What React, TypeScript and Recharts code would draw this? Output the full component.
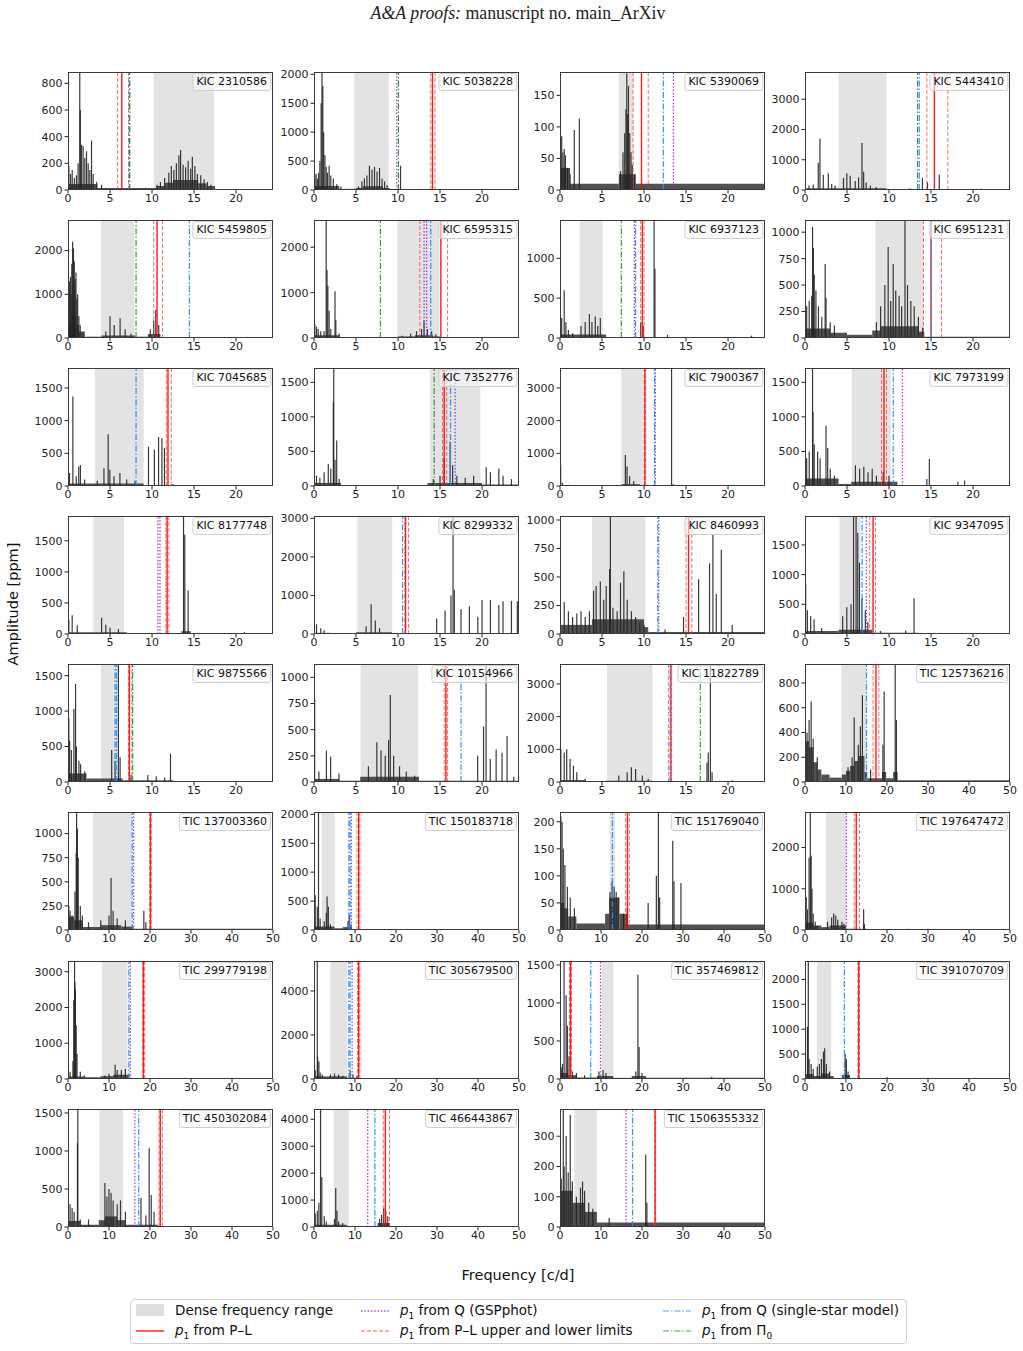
import React from 'react';
import { ComposedChart, Bar, XAxis, YAxis, ReferenceArea, ReferenceLine } from 'recharts';

type Pair = [number, number];
type Span = [number, number, number];

// star identifiers, row by row
const stars = [
  'KIC 2310586', 'KIC 5038228', 'KIC 5390069', 'KIC 5443410',
  'KIC 5459805', 'KIC 6595315', 'KIC 6937123', 'KIC 6951231',
  'KIC 7045685', 'KIC 7352776', 'KIC 7900367', 'KIC 7973199',
  'KIC 8177748', 'KIC 8299332', 'KIC 8460993', 'KIC 9347095',
  'KIC 9875566', 'KIC 10154966', 'KIC 11822789', 'TIC 125736216',
  'TIC 137003360', 'TIC 150183718', 'TIC 151769040', 'TIC 197647472',
  'TIC 299779198', 'TIC 305679500', 'TIC 357469812', 'TIC 391070709',
  'TIC 450302084', 'TIC 466443867', 'TIC 1506355332',
];

const kicFreqTicks = [0, 5, 10, 15, 20];
const ticFreqTicks = [0, 10, 20, 30, 40, 50];

// top of each amplitude axis (ppm) and its ticks
const ampMax = [
  885, 2040, 187, 3900, 2700, 2600, 1480, 1115, 1805, 1707, 3610, 1707, 1900, 3060, 1035, 1987,
  1664, 1127, 3610, 953, 1224, 2040, 218, 2860, 3300, 5360, 1552, 2370, 1552, 4380, 390,
];
const ampTicks = [
  [0, 200, 400, 600, 800], [0, 500, 1000, 1500, 2000], [0, 50, 100, 150], [0, 1000, 2000, 3000],
  [0, 1000, 2000], [0, 1000, 2000], [0, 500, 1000], [0, 250, 500, 750, 1000],
  [0, 500, 1000, 1500], [0, 500, 1000, 1500], [0, 1000, 2000, 3000], [0, 500, 1000, 1500],
  [0, 500, 1000, 1500], [0, 1000, 2000, 3000], [0, 250, 500, 750, 1000], [0, 500, 1000, 1500],
  [0, 500, 1000, 1500], [0, 250, 500, 750, 1000], [0, 1000, 2000, 3000], [0, 200, 400, 600, 800],
  [0, 250, 500, 750, 1000], [0, 500, 1000, 1500, 2000], [0, 50, 100, 150, 200], [0, 1000, 2000],
  [0, 1000, 2000, 3000], [0, 2000, 4000], [0, 500, 1000, 1500], [0, 500, 1000, 1500, 2000],
  [0, 500, 1000, 1500], [0, 1000, 2000, 3000, 4000], [0, 100, 200, 300],
];

// dense frequency range (c/d)
const denseRange: Pair[] = [
  [10.2, 17.4], [4.8, 8.9], [7.0, 8.7], [4.0, 9.7], [3.9, 7.9], [9.9, 14.9], [2.35, 5.1], [8.4, 14.1],
  [3.2, 9.0], [13.8, 19.8], [7.3, 9.85], [5.55, 10.2], [3.0, 6.65], [5.15, 9.3], [3.8, 10.15], [4.1, 6.6],
  [3.9, 5.94], [5.55, 12.4], [5.6, 11.0], [8.9, 15.0], [6.1, 15.65], [1.9, 5.1], [12.1, 13.4], [5.1, 10.1],
  [8.3, 14.5], [4.0, 8.15], [10.2, 13.0], [2.9, 6.4], [7.7, 13.4], [4.8, 8.5], [3.5, 8.95],
];

// p1 from the period-luminosity relation, with its lower/upper limits
const p1PL = [
  6.4, 14.1, 9.7, 15.4, 10.6, 15.1, 9.8, 15.0, 11.9, 15.5, 10.1, 9.4, 11.8, 10.9, 15.3, 8.1,
  7.3, 15.7, 13.2, 17.3, 20.1, 10.9, 16.45, 12.5, 18.4, 10.9, 2.55, 13.1, 22.5, 17.4, 23.2,
];
const p1PLLimits: Pair[] = [
  [5.9, 7.2], [13.9, 14.4], [8.7, 10.5], [14.5, 17.0], [10.2, 11.25], [12.6, 15.9], [9.6, 10.0], [14.1, 16.25],
  [11.7, 12.3], [15.3, 15.8], [10.0, 10.2], [9.1, 9.7], [11.65, 12.0], [10.8, 11.25], [15.0, 15.7], [7.7, 8.4],
  [7.2, 7.6], [15.5, 15.9], [12.9, 13.3], [16.6, 18.0], [19.9, 20.3], [10.5, 11.2], [16.0, 16.9], [12.0, 13.3],
  [18.2, 18.7], [10.6, 11.2], [2.3, 2.8], [12.9, 13.3], [22.2, 23.0], [16.9, 18.4], [23.05, 23.35],
];
// p1 from Q (GSPphot), from Q (single-star model) and from Pi0
const p1GSP = [
  [], [9.85], [13.5], [], [], [13.1, 13.4], [8.85], [], [], [16.8], [11.35], [11.6], [10.7, 10.95], [], [11.75], [7.3],
  [], [], [], [], [16.0], [9.1], [], [10.1], [15.2], [9.3], [9.9], [], [16.3], [13.1], [16.1],
];
const p1Single = [
  [7.3], [], [12.3], [13.6], [14.45], [13.9], [9.0], [15.0], [8.1], [16.25], [11.25], [10.5], [], [10.55], [11.64], [6.8],
  [5.6, 5.75], [17.5], [13.1], [15.0], [15.65], [8.5, 8.8], [12.8], [], [14.85], [8.5, 8.8], [7.5], [9.6], [17.25], [14.85], [17.7],
];
const p1Pi0 = [
  [7.35], [10.05], [], [13.4], [8.1], [7.9], [7.3], [], [], [14.3], [], [], [], [], [], [],
  [7.7], [], [16.7], [], [], [], [], [], [], [], [], [], [], [], [],
];

// amplitude spectra: main peaks [freq c/d, amp ppm]
const s2310586: Pair[] = [[0.1, 180], [0.3, 120], [0.5, 150], [0.75, 90], [1.0, 110], [1.2, 200], [1.4, 885], [1.47, 600], [1.6, 340], [1.8, 330], [2.0, 240], [2.2, 290], [2.4, 200], [2.6, 150], [2.8, 370], [3.0, 120], [3.4, 60], [4.0, 40], [10.6, 40], [11.0, 60], [11.5, 90], [12.0, 130], [12.3, 180], [12.6, 150], [12.9, 200], [13.2, 260], [13.4, 300], [13.7, 190], [14.0, 170], [14.3, 220], [14.6, 160], [14.8, 250], [15.1, 180], [15.4, 120], [15.8, 110], [16.2, 80], [16.6, 60], [17.0, 40]];
const s5038228: Pair[] = [[0.1, 250], [0.25, 280], [0.4, 200], [0.55, 300], [0.7, 500], [0.85, 1500], [0.95, 2040], [1.05, 1800], [1.15, 1000], [1.3, 600], [1.45, 400], [1.6, 300], [1.8, 420], [2.0, 250], [2.3, 200], [2.7, 100], [3.2, 60], [5.3, 60], [5.7, 150], [6.0, 200], [6.3, 250], [6.6, 420], [6.9, 350], [7.2, 400], [7.5, 320], [7.8, 380], [8.1, 200], [8.4, 150], [8.7, 80], [10.3, 420]];
const s5390069: Pair[] = [[0.05, 125], [0.2, 85], [0.35, 60], [0.5, 65], [0.65, 55], [0.9, 35], [1.2, 25], [1.7, 95], [2.3, 113], [7.2, 30], [7.5, 60], [7.7, 90], [7.85, 128], [7.95, 185], [8.05, 120], [8.15, 165], [8.3, 90], [8.45, 60], [8.6, 40], [8.9, 25]];
const s5443410: Pair[] = [[0.5, 150], [1.0, 180], [1.6, 900], [1.8, 1700], [2.2, 500], [2.8, 550], [3.2, 200], [3.6, 150], [4.6, 400], [5.0, 550], [5.4, 470], [6.0, 300], [6.4, 420], [6.8, 1550], [7.0, 600], [7.3, 250], [7.8, 150], [8.5, 100], [12.5, 60], [14.0, 400], [14.6, 250], [16.0, 500], [21.0, 50]];
const s5459805: Pair[] = [[0.05, 1750], [0.12, 1100], [0.2, 1300], [0.3, 1400], [0.38, 1000], [0.45, 1700], [0.55, 2200], [0.6, 1200], [0.65, 2050], [0.75, 1750], [0.8, 1100], [0.85, 1350], [0.95, 1500], [1.05, 900], [1.15, 1000], [1.3, 500], [1.45, 300], [1.8, 100], [4.5, 150], [5.0, 500], [5.5, 300], [6.2, 450], [6.8, 200], [7.5, 100], [9.8, 200], [10.2, 400], [10.45, 650], [10.8, 300]];
const s6595315: Pair[] = [[0.1, 300], [0.3, 250], [0.5, 200], [0.8, 150], [1.2, 150], [1.45, 2600], [1.55, 1500], [1.65, 1150], [1.8, 600], [2.0, 200], [2.5, 1030], [2.6, 400], [3.0, 100], [10.5, 50], [11.5, 100], [12.2, 150], [12.8, 200], [13.1, 380], [13.5, 200], [14.0, 150], [14.5, 80]];
const s6937123: Pair[] = [[0.2, 250], [0.5, 600], [0.7, 200], [1.0, 100], [1.5, 60], [2.5, 150], [3.0, 200], [3.5, 300], [3.8, 200], [4.2, 270], [4.5, 150], [4.8, 250], [9.6, 200], [9.9, 150], [11.2, 1480], [11.3, 870], [12.8, 40], [22.8, 30]];
const s6951231: Pair[] = [[0.2, 300], [0.5, 350], [0.8, 400], [0.9, 1050], [1.0, 850], [1.1, 600], [1.3, 450], [1.6, 300], [2.0, 200], [2.4, 700], [2.5, 380], [3.0, 150], [3.5, 120], [8.5, 150], [9.0, 300], [9.5, 500], [9.9, 860], [10.2, 350], [10.5, 700], [10.8, 450], [11.2, 400], [11.5, 300], [11.9, 1115], [12.2, 500], [12.6, 350], [13.0, 300], [13.5, 200], [14.0, 100]];
const s7045685: Pair[] = [[0.2, 200], [0.6, 1370], [1.0, 150], [1.3, 300], [1.5, 320], [2.0, 100], [3.5, 80], [4.3, 270], [4.8, 790], [5.0, 250], [5.5, 150], [6.2, 200], [7.0, 100], [8.0, 80], [9.6, 600], [10.3, 560], [10.8, 750], [11.2, 730], [11.5, 580], [12.5, 30]];
const s7352776: Pair[] = [[0.3, 150], [0.7, 120], [1.2, 200], [1.7, 320], [2.0, 250], [2.3, 1220], [2.35, 1707], [2.5, 380], [2.7, 660], [3.0, 100], [14.2, 100], [15.0, 150], [15.5, 400], [16.2, 640], [16.5, 300], [17.0, 150], [18.0, 120], [19.0, 150], [20.5, 270], [21.0, 200], [22.0, 250], [22.5, 150], [23.5, 100]];
const s7900367: Pair[] = [[0.1, 620], [0.3, 100], [1.0, 40], [7.8, 950], [8.0, 600], [8.3, 300], [8.8, 150], [13.3, 3610], [13.5, 60]];
const s7973199: Pair[] = [[0.2, 400], [0.5, 500], [0.9, 1707], [0.95, 1070], [1.1, 600], [1.5, 500], [1.8, 400], [2.5, 870], [2.7, 550], [3.0, 250], [3.5, 150], [6.0, 300], [6.5, 250], [7.0, 280], [7.5, 200], [8.0, 250], [8.5, 150], [9.3, 200], [10.0, 150], [14.5, 100], [14.8, 390], [18.2, 60], [19.0, 80]];
const s8177748: Pair[] = [[0.1, 230], [0.5, 300], [1.1, 140], [4.0, 260], [4.5, 150], [5.0, 100], [6.0, 80], [13.75, 1900], [13.9, 1600], [14.3, 700], [21.0, 30]];
const s8299332: Pair[] = [[0.3, 250], [0.8, 150], [1.2, 100], [6.2, 200], [6.8, 770], [7.3, 350], [7.8, 150], [14.6, 400], [15.6, 600], [16.3, 1000], [16.55, 3060], [16.7, 1150], [17.5, 650], [18.5, 720], [19.5, 450], [20.0, 880], [21.0, 880], [22.0, 750], [22.5, 850], [23.5, 860], [24.2, 850]];
const s8460993: Pair[] = [[0.5, 280], [1.0, 200], [1.5, 150], [2.0, 180], [2.5, 200], [3.0, 150], [3.5, 200], [4.0, 380], [4.3, 420], [4.8, 460], [5.2, 300], [5.5, 420], [5.9, 570], [6.0, 1035], [6.3, 230], [6.8, 200], [7.2, 450], [7.6, 550], [8.0, 300], [8.5, 200], [9.0, 150], [9.5, 100], [10.0, 80], [12.5, 40], [14.7, 150], [16.5, 480], [17.8, 620], [18.2, 870], [18.6, 350], [19.2, 740], [20.5, 80]];
const s9347095: Pair[] = [[0.1, 850], [0.3, 400], [0.7, 300], [1.1, 250], [2.0, 100], [4.5, 300], [5.0, 450], [5.5, 500], [5.8, 1987], [6.1, 1987], [6.3, 1700], [6.5, 1200], [6.8, 600], [7.2, 400], [7.5, 200], [9.0, 50], [12.0, 60], [13.0, 600]];
const s9875566: Pair[] = [[0.1, 900], [0.2, 580], [0.4, 450], [0.7, 1030], [0.9, 1380], [1.0, 500], [1.3, 300], [1.5, 250], [2.0, 150], [5.2, 450], [5.6, 300], [6.0, 1664], [6.2, 350], [7.5, 100], [9.5, 100], [10.5, 80], [11.5, 60], [12.2, 400]];
const s10154966: Pair[] = [[0.1, 800], [0.6, 100], [1.5, 300], [2.0, 240], [3.0, 80], [6.5, 150], [7.5, 380], [8.0, 300], [8.5, 250], [8.9, 400], [9.1, 830], [9.5, 250], [10.2, 150], [11.0, 100], [12.0, 60], [19.5, 250], [20.2, 530], [20.5, 1127], [21.0, 220], [21.7, 310], [22.4, 280], [23.0, 440], [23.8, 50]];
const s11822789: Pair[] = [[0.1, 1000], [0.5, 900], [0.8, 1000], [1.2, 700], [1.6, 500], [2.0, 300], [3.0, 100], [7.0, 200], [8.0, 300], [8.5, 450], [9.0, 400], [9.8, 200], [10.5, 100], [17.5, 600], [17.65, 900], [17.9, 3610], [18.1, 300], [20.5, 50]];
const s125736216: Pair[] = [[0.5, 400], [1.0, 500], [1.5, 650], [2.0, 350], [3.0, 200], [10.5, 120], [11.5, 200], [12.0, 520], [13.0, 300], [13.5, 450], [14.0, 700], [16.0, 100], [19.0, 300], [19.3, 730], [22.0, 953], [22.3, 500]];
const s137003360: Pair[] = [[0.2, 250], [0.5, 200], [1.0, 150], [1.7, 400], [2.0, 800], [2.1, 1224], [2.3, 1050], [2.5, 750], [3.0, 250], [3.5, 150], [5.0, 80], [8.0, 100], [10.0, 150], [10.5, 540], [11.0, 200], [12.0, 120], [14.0, 100], [18.5, 200], [19.0, 80]];
const s150183718: Pair[] = [[0.3, 600], [0.8, 400], [1.1, 2040], [1.5, 200], [2.5, 150], [3.0, 300], [3.2, 580], [3.5, 400], [4.0, 100], [8.3, 150], [8.6, 250], [9.0, 100]];
const s151769040: Pair[] = [[0.2, 210], [0.5, 200], [0.8, 150], [1.2, 120], [1.8, 80], [2.5, 60], [3.5, 40], [12.2, 70], [12.7, 90], [13.2, 80], [13.7, 70], [14.2, 60], [15.5, 30], [16.4, 40], [21.5, 50], [23.5, 100], [24.0, 218], [24.3, 60], [27.5, 165], [27.8, 90], [29.5, 87]];
const s197647472: Pair[] = [[0.3, 800], [0.6, 500], [1.0, 1750], [1.3, 2860], [1.5, 1800], [1.7, 1000], [2.0, 400], [2.5, 200], [3.0, 100], [5.5, 200], [6.5, 300], [7.0, 400], [7.5, 350], [8.0, 250], [9.0, 200], [9.5, 150], [14.3, 500], [14.5, 150], [25.0, 30], [30.0, 30]];
const s299779198: Pair[] = [[0.5, 200], [1.2, 500], [1.4, 2200], [1.6, 3300], [1.7, 2700], [1.8, 2500], [2.0, 1500], [2.2, 700], [3.0, 200], [4.0, 100], [9.0, 100], [10.0, 150], [11.5, 400], [12.0, 250], [13.0, 250], [14.0, 280]];
const s305679500: Pair[] = [[0.3, 400], [0.8, 5360], [0.9, 1000], [1.2, 800], [1.5, 300], [2.0, 200], [4.0, 200], [5.0, 250], [6.0, 200], [7.0, 150], [8.8, 400], [9.5, 200], [10.5, 150]];
const s357469812: Pair[] = [[0.3, 150], [0.6, 200], [1.0, 1552], [1.5, 1100], [1.8, 700], [2.2, 300], [3.0, 100], [4.0, 80], [6.0, 50], [9.5, 100], [10.5, 120], [11.2, 80], [18.5, 100], [19.0, 1370], [19.3, 420], [20.0, 80], [37.0, 30]];
const s391070709: Pair[] = [[0.6, 1050], [0.8, 2370], [1.0, 400], [1.5, 300], [2.0, 200], [3.0, 250], [3.5, 300], [4.0, 400], [4.5, 550], [4.8, 620], [5.2, 300], [6.0, 150], [9.8, 500], [10.1, 400], [10.5, 150], [20.0, 40]];
const s450302084: Pair[] = [[0.5, 300], [1.0, 250], [1.5, 200], [2.3, 1100], [2.4, 1552], [3.0, 100], [5.0, 100], [9.0, 580], [9.5, 400], [10.0, 500], [10.5, 450], [11.0, 350], [12.0, 300], [12.8, 350], [14.0, 200], [17.8, 380], [19.0, 150], [19.8, 1040], [20.3, 420], [21.0, 200]];
const s466443867: Pair[] = [[0.3, 500], [0.8, 600], [1.2, 900], [1.6, 4380], [1.9, 1850], [2.5, 400], [3.0, 200], [5.0, 300], [5.3, 1450], [5.6, 600], [6.0, 200], [7.0, 150], [16.0, 300], [16.5, 450], [17.0, 700], [17.5, 600], [18.0, 400], [36.0, 30]];
const s1506355332: Pair[] = [[0.3, 160], [0.8, 390], [1.0, 200], [1.5, 300], [2.0, 180], [2.5, 370], [3.0, 150], [4.0, 100], [5.0, 130], [5.5, 150], [6.0, 120], [7.0, 80], [8.0, 60], [12.0, 30], [20.9, 240], [21.2, 80]];

const spectra = [
  s2310586, s5038228, s5390069, s5443410, s5459805, s6595315, s6937123, s6951231,
  s7045685, s7352776, s7900367, s7973199, s8177748, s8299332, s8460993, s9347095,
  s9875566, s10154966, s11822789, s125736216, s137003360, s150183718, s151769040, s197647472,
  s299779198, s305679500, s357469812, s391070709, s450302084, s466443867, s1506355332,
];

// noise level of each spectrum: [from, to, ppm]
const noiseFloor: Span[][] = [
  [[0, 3.5, 45], [3.5, 10.5, 15], [10.5, 11.5, 30], [11.5, 12.5, 55], [12.5, 15.5, 75], [15.5, 16.5, 50], [16.5, 17.5, 30], [17.5, 24.4, 8]],
  [[0, 3, 70], [3, 5, 20], [5, 5.8, 35], [5.8, 8.2, 65], [8.2, 9, 35], [9, 24.4, 8]],
  [[0, 1.2, 35], [1.2, 7, 10], [7, 9, 25], [9, 24.4, 10]],
  [[0, 9.7, 55], [9.7, 24.4, 15]],
  [[0, 0.4, 350], [0.4, 1.0, 500], [1.0, 1.3, 300], [1.3, 2, 150], [2, 4, 30], [4, 8, 60], [8, 9.5, 30], [9.5, 11, 90], [11, 24.4, 12]],
  [[0, 3, 60], [3, 10, 20], [10, 12, 35], [12, 14.2, 60], [14.2, 15, 35], [15, 24.4, 15]],
  [[0, 5.5, 45], [5.5, 24.4, 10]],
  [[0, 3, 90], [3, 5, 50], [5, 8, 30], [8, 9, 70], [9, 13.5, 110], [13.5, 14.2, 60], [14.2, 24.4, 12]],
  [[0, 9, 40], [9, 24.4, 10]],
  [[0, 3.2, 45], [3.2, 13.5, 10], [13.5, 20, 45], [20, 24.4, 20]],
  [[0, 1.5, 30], [1.5, 7.3, 8], [7.3, 9.5, 55], [9.5, 24.4, 8]],
  [[0, 4, 110], [4, 5.5, 30], [5.5, 11, 60], [11, 24.4, 15]],
  [[0, 7, 30], [7, 13.5, 8], [13.5, 14.6, 45], [14.6, 24.4, 8]],
  [[0, 2, 30], [2, 5, 10], [5, 9.3, 45], [9.3, 16, 10], [16, 24.4, 25]],
  [[0, 3.8, 80], [3.8, 10, 130], [10, 10.5, 60], [10.5, 24.4, 18]],
  [[0, 4, 50], [4, 8, 70], [8, 13.5, 20], [13.5, 24.4, 8]],
  [[0, 2.2, 120], [2.2, 6.5, 50], [6.5, 12.5, 25], [12.5, 24.4, 8]],
  [[0, 3, 30], [3, 5.5, 12], [5.5, 12.5, 50], [12.5, 24.4, 12]],
  [[0, 3, 60], [3, 5.5, 10], [5.5, 11, 40], [11, 24.4, 8]],
  [[0, 1, 330], [1, 2, 280], [2, 3, 160], [3, 4, 100], [4, 6, 60], [6, 9, 35], [9, 10, 60], [10, 11, 90], [11, 12, 130], [12, 13, 170], [13, 14.5, 210], [14.5, 15.2, 80], [15.2, 18.8, 30], [18.8, 19.8, 80], [19.8, 21.5, 30], [21.5, 22.6, 80], [22.6, 50, 15]],
  [[0, 1.5, 140], [1.5, 3.5, 100], [3.5, 8, 30], [8, 13, 50], [13, 16, 35], [16, 50, 12]],
  [[0, 5, 60], [5, 7, 30], [7, 9.2, 50], [9.2, 50, 10]],
  [[0, 1, 50], [1, 2, 40], [2, 4, 25], [4, 11, 12], [11, 12, 30], [12, 14.5, 60], [14.5, 16.5, 30], [16.5, 50, 10]],
  [[0, 2, 180], [2, 4, 110], [4, 6, 70], [6, 10, 110], [10, 15, 30], [15, 50, 12]],
  [[0, 4, 70], [4, 8, 50], [8, 11, 80], [11, 15, 120], [15, 50, 15]],
  [[0, 3, 120], [3, 8, 120], [8, 11, 60], [11, 50, 15]],
  [[0, 2, 80], [2, 4, 50], [4, 9, 20], [9, 13, 40], [13, 17.5, 15], [17.5, 21, 40], [21, 50, 15]],
  [[0, 2, 100], [2, 4, 60], [4, 6, 110], [6, 7, 60], [7, 9, 20], [9, 11, 80], [11, 50, 12]],
  [[0, 3, 80], [3, 7.5, 30], [7.5, 9, 90], [9, 12, 140], [12, 14, 90], [14, 22, 30], [22, 50, 10]],
  [[0, 8, 80], [8, 15.5, 30], [15.5, 18.5, 150], [18.5, 50, 10]],
  [[0, 3, 120], [3, 6, 80], [6, 9, 50], [9, 50, 15]],
];

const colLeft = [68, 314, 560, 805];
const rowTop = [72, 220, 368, 516, 664, 812, 961, 1109];
const PLOT_W = 205;
const PLOT_H = 118;
const AXIS_W = 50;
const RIGHT_PAD = 12;
const FONT = '"DejaVu Sans", Verdana, sans-serif';

const tickStyle = { fontSize: 11, fill: '#222', fontFamily: FONT };

// one periodogram peak: a thin vertical stroke centred on the bar slot
const Spike = (p: any) => {
  const cx = p.x + p.width / 2;
  return <line x1={cx} x2={cx} y1={p.y} y2={p.y + p.height} stroke="#242424" strokeOpacity={0.9} strokeWidth={1.2} />;
};

function vlines(xs: number[], stroke: string, dash: string | undefined, width: number, opacity: number, key: string) {
  return xs.map((x, k) => (
    <ReferenceLine key={key + k} x={x} stroke={stroke} strokeDasharray={dash} strokeWidth={width} strokeOpacity={opacity} ifOverflow="hidden" />
  ));
}

function Panel({ i }: { i: number }) {
  const left = colLeft[i % 4];
  const top = rowTop[Math.floor(i / 4)];
  const isKic = stars[i].startsWith('KIC');
  const xMax = isKic ? 24.4 : 50;
  const data = spectra[i].map(([f, a]) => ({ f, a }));
  return (
    <div style={{ position: 'absolute', left: left - AXIS_W, top: top - 5 }}>
      <ComposedChart width={PLOT_W + AXIS_W + RIGHT_PAD} height={PLOT_H + 27} data={data} margin={{ top: 5, right: RIGHT_PAD, bottom: 0, left: 0 }}>
        <XAxis type="number" dataKey="f" domain={[0, xMax]} ticks={isKic ? kicFreqTicks : ticFreqTicks} allowDataOverflow
          height={22} interval={0} tick={tickStyle} tickSize={3.5} tickMargin={1} axisLine={false} tickLine={{ stroke: '#222' }} />
        <YAxis type="number" domain={[0, ampMax[i]]} ticks={ampTicks[i]} allowDataOverflow width={AXIS_W}
          interval={0} tick={tickStyle} tickSize={3.5} tickMargin={2} axisLine={false} tickLine={{ stroke: '#222' }} />
        <ReferenceArea x1={denseRange[i][0]} x2={denseRange[i][1]} fill="#dedede" fillOpacity={0.85} ifOverflow="hidden" />
        {noiseFloor[i].map(([a, b, h], k) => (
          <ReferenceArea key={'n' + k} x1={a} x2={b} y1={0} y2={h} fill="#333" fillOpacity={0.85} ifOverflow="hidden" />
        ))}
        <Bar dataKey="a" shape={Spike} isAnimationActive={false} />
        {vlines([p1PL[i]], '#ff0000', undefined, 1.4, 0.9, 'pl')}
        {vlines(p1PLLimits[i], '#ff3030', '4 2', 1, 0.7, 'lim')}
        {vlines(p1GSP[i], '#9a1fe0', '1.5 1.8', 1.3, 0.85, 'gsp')}
        {vlines(p1Single[i], '#1e90ff', '6 2 1.5 2', 1.2, 0.95, 'ss')}
        {vlines(p1Pi0[i], '#228b22', '6 2 1.5 2', 1.1, 0.95, 'pi')}
      </ComposedChart>
      <div style={{ position: 'absolute', left: AXIS_W, top: 5, width: PLOT_W, height: PLOT_H, border: '1px solid #3a3a3a', boxSizing: 'border-box', pointerEvents: 'none' }} />
      <div style={{
        position: 'absolute', left: AXIS_W + PLOT_W - 2, top: 6, transform: 'translateX(-100%)', padding: '1px 3px', fontFamily: FONT, fontSize: 11, color: '#111',
        background: 'rgba(248,248,248,0.6)', border: '1px solid #cfcfcf', borderRadius: 3, whiteSpace: 'nowrap', lineHeight: '14px',
      }}>{stars[i]}</div>
    </div>
  );
}

function LegendLine({ stroke, dash, width }: { stroke: string; dash?: string; width: number }) {
  return (
    <svg width={28} height={10} style={{ verticalAlign: 'middle' }}>
      <line x1={0} x2={28} y1={5} y2={5} stroke={stroke} strokeDasharray={dash} strokeWidth={width} strokeOpacity={0.8} />
    </svg>
  );
}

const p1 = <><i>p</i><sub style={{ fontSize: 9 }}>1</sub></>;

export default function App() {
  const item = (x: number, y: number, glyph: React.ReactNode, text: React.ReactNode) => (
    <div style={{ position: 'absolute', left: x, top: y, display: 'flex', alignItems: 'center', whiteSpace: 'nowrap' }}>
      <span style={{ width: 28, display: 'inline-flex', alignItems: 'center' }}>{glyph}</span>
      <span style={{ marginLeft: 11 }}>{text}</span>
    </div>
  );
  return (
    <div style={{ position: 'absolute', left: 0, top: 0, width: 1023, height: 1351, background: '#fff', overflow: 'hidden' }}>
      <div style={{ position: 'absolute', left: 0, width: 1036, top: 3, textAlign: 'center', fontFamily: '"Liberation Serif", "Times New Roman", serif', fontSize: 17.8, color: '#222' }}>
        <i>A&amp;A proofs:</i> manuscript no. main_ArXiv
      </div>

      {stars.map((_, i) => <Panel key={i} i={i} />)}

      <div style={{ position: 'absolute', left: 13, top: 604, transform: 'translate(-50%, -50%) rotate(-90deg)', fontFamily: FONT, fontSize: 14.5, color: '#111', whiteSpace: 'nowrap' }}>
        Amplitude [ppm]
      </div>
      <div style={{ position: 'absolute', left: 518, top: 1275, transform: 'translate(-50%, -50%)', fontFamily: FONT, fontSize: 14.5, color: '#111', whiteSpace: 'nowrap' }}>
        Frequency [c/d]
      </div>

      <div style={{ position: 'absolute', left: 130, top: 1299, width: 777, height: 45, border: '1px solid #d0d0d0', borderRadius: 4, boxSizing: 'border-box', fontFamily: FONT, fontSize: 13.5, color: '#111' }}>
        {item(5, 2, <span style={{ display: 'inline-block', width: 28, height: 12, background: '#dedede' }} />, 'Dense frequency range')}
        {item(5, 22, <LegendLine stroke="#ff0000" width={1.6} />, <>{p1} from P–L</>)}
        {item(230, 2, <LegendLine stroke="#9a1fe0" dash="1.5 1.8" width={1.3} />, <>{p1} from Q (GSPphot)</>)}
        {item(230, 22, <LegendLine stroke="#ff3030" dash="4 2" width={1} />, <>{p1} from P–L upper and lower limits</>)}
        {item(532, 2, <LegendLine stroke="#1e90ff" dash="6 2 1.5 2" width={1.2} />, <>{p1} from Q (single-star model)</>)}
        {item(532, 22, <LegendLine stroke="#228b22" dash="6 2 1.5 2" width={1.1} />, <>{p1} from Π<sub style={{ fontSize: 9 }}>0</sub></>)}
      </div>
    </div>
  );
}
